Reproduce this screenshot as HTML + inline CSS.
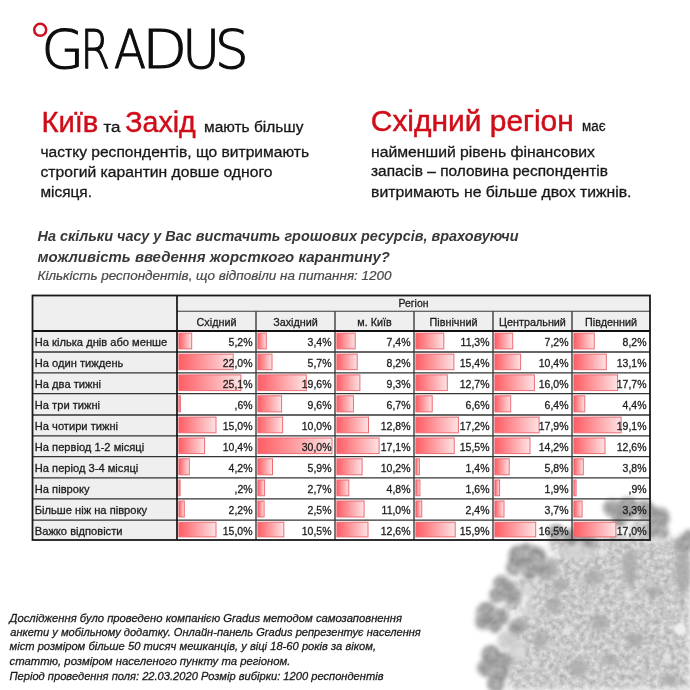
<!DOCTYPE html>
<html lang="uk"><head><meta charset="utf-8"><title>Gradus</title>
<style>
html,body{margin:0;padding:0;background:#fff}
body{width:690px;height:690px;overflow:hidden;position:relative}
svg{position:absolute;left:0;top:0;display:block;filter:blur(0.35px)}
text{font-family:'Liberation Sans', Arial, sans-serif}
</style></head>
<body>
<svg width="690" height="690" viewBox="0 0 690 690">
<defs>
<linearGradient id="bar" x1="0" x2="1" y1="0" y2="0">
<stop offset="0" stop-color="#ff5c63"/><stop offset="1" stop-color="#fde3e4"/>
</linearGradient>
<filter id="blur2" x="-20%" y="-20%" width="140%" height="140%"><feGaussianBlur stdDeviation="2.2"/></filter>
<filter id="blur1" x="-20%" y="-20%" width="140%" height="140%"><feGaussianBlur stdDeviation="1"/></filter>
</defs>
<rect width="690" height="690" fill="#ffffff"/>
<g id="virus">
<filter id="vbody" x="450" y="480" width="260" height="230" filterUnits="userSpaceOnUse" color-interpolation-filters="sRGB">
<feGaussianBlur in="SourceAlpha" stdDeviation="3" result="a"/>
<feTurbulence type="fractalNoise" baseFrequency="0.2" numOctaves="3" seed="5" result="n"/>
<feColorMatrix in="n" type="matrix" values="0.3 0 0 0 0.64  0.3 0 0 0 0.64  0.3 0 0 0 0.64  0 0 0 0 1" result="g"/>
<feComposite in="g" in2="a" operator="in"/>
</filter>
<filter id="vspike" x="450" y="480" width="260" height="230" filterUnits="userSpaceOnUse" color-interpolation-filters="sRGB">
<feGaussianBlur in="SourceAlpha" stdDeviation="2.2" result="a"/>
<feTurbulence type="fractalNoise" baseFrequency="0.12" numOctaves="2" seed="11" result="n"/>
<feColorMatrix in="n" type="matrix" values="0.2 0 0 0 0.54  0.2 0 0 0 0.54  0.2 0 0 0 0.54  0 0 0 0 1" result="g"/>
<feComposite in="g" in2="a" operator="in"/>
</filter>
<filter id="vb2" x="-50%" y="-50%" width="200%" height="200%"><feGaussianBlur stdDeviation="2"/></filter>
<filter id="vb1" x="-50%" y="-50%" width="200%" height="200%"><feGaussianBlur stdDeviation="1.2"/></filter>
<!-- body -->
<g filter="url(#vbody)" fill="#000">
<path d="M690 530 L675 538 L660 540 L640 536 L612 534 L590 540 L565 550 L548 563 L537 580 L528 598 L520 620 L514 642 L510 665 L508 690 L690 690 Z"/>
<ellipse cx="524" cy="585" rx="10" ry="8"/>
<ellipse cx="512" cy="607" rx="9" ry="7"/>
<ellipse cx="508" cy="640" rx="8" ry="10"/>
<ellipse cx="640" cy="528" rx="10" ry="8"/>
<ellipse cx="560" cy="545" rx="12" ry="8"/>
</g>
<!-- darker patches in body -->
<g fill="#a6a6a6" filter="url(#vb2)" opacity="0.75">
<ellipse cx="593" cy="577" rx="9" ry="7"/>
<ellipse cx="628" cy="562" rx="5" ry="10"/>
<ellipse cx="654" cy="592" rx="8" ry="6"/>
<ellipse cx="600" cy="623" rx="9" ry="7"/>
<ellipse cx="635" cy="640" rx="9" ry="7"/>
<ellipse cx="578" cy="668" rx="9" ry="8"/>
<ellipse cx="554" cy="605" rx="7" ry="8"/>
<ellipse cx="560" cy="585" rx="8" ry="6"/>
<ellipse cx="540" cy="640" rx="6" ry="9"/>
<ellipse cx="610" cy="660" rx="7" ry="5"/>
<ellipse cx="670" cy="680" rx="8" ry="6"/>
<ellipse cx="680" cy="575" rx="6" ry="8"/>
<ellipse cx="545" cy="575" rx="6" ry="5"/>
<ellipse cx="630" cy="568" rx="7" ry="18"/>
<ellipse cx="683" cy="572" rx="8" ry="22"/>
<ellipse cx="551" cy="568" rx="6" ry="11"/>
<ellipse cx="520" cy="625" rx="6" ry="8"/>
</g>
<g fill="#d6d6d6" filter="url(#vb2)" opacity="0.7">
<ellipse cx="578" cy="552" rx="18" ry="8"/>
<ellipse cx="527" cy="590" rx="7" ry="7"/>
<ellipse cx="518" cy="650" rx="8" ry="12"/>
<ellipse cx="530" cy="612" rx="6" ry="6"/>
<ellipse cx="506" cy="641" rx="9" ry="8" fill="#cfcfcf"/>
</g>
<g fill="#e2e2e2" filter="url(#vb1)">
<circle cx="602" cy="552" r="4"/>
<circle cx="628" cy="595" r="3.5"/>
<circle cx="680" cy="629" r="6" fill="#f0f0f0"/>
<circle cx="667" cy="657" r="4"/>
<circle cx="567" cy="631" r="4"/>
<circle cx="535" cy="663" r="3"/>
<circle cx="575" cy="545" r="3"/>
<circle cx="520" cy="652" r="5" fill="#dadada"/>
</g>
<!-- spikes -->
<g filter="url(#vspike)" fill="#000">
<circle cx="519" cy="556" r="11"/><circle cx="535" cy="558" r="12"/><circle cx="514" cy="568" r="8"/><circle cx="543" cy="569" r="8"/><circle cx="530" cy="572" r="8"/><circle cx="527" cy="551" r="8"/>
<circle cx="502" cy="584" r="9"/><circle cx="497" cy="595" r="8"/><circle cx="513" cy="597" r="9"/><circle cx="508" cy="589" r="9"/>
<circle cx="487" cy="613" r="11"/><circle cx="500" cy="617" r="9"/><circle cx="483" cy="622" r="8"/><circle cx="495" cy="626" r="7"/>
<circle cx="491" cy="655" r="10"/><circle cx="486" cy="668" r="9"/><circle cx="500" cy="671" r="10"/><circle cx="496" cy="684" r="9"/><circle cx="505" cy="660" r="8"/>
<circle cx="612" cy="508" r="9"/><circle cx="628" cy="508" r="11"/><circle cx="645" cy="510" r="10"/><circle cx="659" cy="518" r="11"/><circle cx="620" cy="519" r="8"/><circle cx="652" cy="530" r="8"/><circle cx="662" cy="532" r="7"/>
<circle cx="684" cy="545" r="9"/><circle cx="690" cy="537" r="7"/>
<circle cx="516" cy="627" r="8"/>
<circle cx="556" cy="532" r="8"/><circle cx="572" cy="537" r="9"/><circle cx="588" cy="540" r="8"/>
</g>
</g>

<!-- logo -->
<circle cx="40.2" cy="29.8" r="6.0" fill="none" stroke="#cc1020" stroke-width="2.5"/>
<rect x="32.5" y="295.5" width="617.5" height="35.5" fill="#efefef"/>
<rect x="32.5" y="295.5" width="144.5" height="244.5" fill="#efefef"/>
<rect x="178.9" y="333.1" width="12.8" height="15.8" fill="url(#bar)" stroke="#ec6d76" stroke-width="1"/>
<rect x="257.9" y="333.1" width="8.4" height="15.8" fill="url(#bar)" stroke="#ec6d76" stroke-width="1"/>
<rect x="336.9" y="333.1" width="18.3" height="15.8" fill="url(#bar)" stroke="#ec6d76" stroke-width="1"/>
<rect x="415.9" y="333.1" width="27.9" height="15.8" fill="url(#bar)" stroke="#ec6d76" stroke-width="1"/>
<rect x="494.9" y="333.1" width="17.8" height="15.8" fill="url(#bar)" stroke="#ec6d76" stroke-width="1"/>
<rect x="573.9" y="333.1" width="20.3" height="15.8" fill="url(#bar)" stroke="#ec6d76" stroke-width="1"/>
<rect x="178.9" y="354.1" width="54.3" height="15.6" fill="url(#bar)" stroke="#ec6d76" stroke-width="1"/>
<rect x="257.9" y="354.1" width="14.1" height="15.6" fill="url(#bar)" stroke="#ec6d76" stroke-width="1"/>
<rect x="336.9" y="354.1" width="20.3" height="15.6" fill="url(#bar)" stroke="#ec6d76" stroke-width="1"/>
<rect x="415.9" y="354.1" width="38.0" height="15.6" fill="url(#bar)" stroke="#ec6d76" stroke-width="1"/>
<rect x="494.9" y="354.1" width="25.7" height="15.6" fill="url(#bar)" stroke="#ec6d76" stroke-width="1"/>
<rect x="573.9" y="354.1" width="32.4" height="15.6" fill="url(#bar)" stroke="#ec6d76" stroke-width="1"/>
<rect x="178.9" y="374.9" width="62.0" height="15.7" fill="url(#bar)" stroke="#ec6d76" stroke-width="1"/>
<rect x="257.9" y="374.9" width="48.4" height="15.7" fill="url(#bar)" stroke="#ec6d76" stroke-width="1"/>
<rect x="336.9" y="374.9" width="23.0" height="15.7" fill="url(#bar)" stroke="#ec6d76" stroke-width="1"/>
<rect x="415.9" y="374.9" width="31.4" height="15.7" fill="url(#bar)" stroke="#ec6d76" stroke-width="1"/>
<rect x="494.9" y="374.9" width="39.5" height="15.7" fill="url(#bar)" stroke="#ec6d76" stroke-width="1"/>
<rect x="573.9" y="374.9" width="43.7" height="15.7" fill="url(#bar)" stroke="#ec6d76" stroke-width="1"/>
<rect x="178.9" y="395.8" width="1.5" height="16.1" fill="url(#bar)" stroke="#ec6d76" stroke-width="1"/>
<rect x="257.9" y="395.8" width="23.7" height="16.1" fill="url(#bar)" stroke="#ec6d76" stroke-width="1"/>
<rect x="336.9" y="395.8" width="16.5" height="16.1" fill="url(#bar)" stroke="#ec6d76" stroke-width="1"/>
<rect x="415.9" y="395.8" width="16.3" height="16.1" fill="url(#bar)" stroke="#ec6d76" stroke-width="1"/>
<rect x="494.9" y="395.8" width="15.8" height="16.1" fill="url(#bar)" stroke="#ec6d76" stroke-width="1"/>
<rect x="573.9" y="395.8" width="10.9" height="16.1" fill="url(#bar)" stroke="#ec6d76" stroke-width="1"/>
<rect x="178.9" y="417.1" width="37.1" height="15.7" fill="url(#bar)" stroke="#ec6d76" stroke-width="1"/>
<rect x="257.9" y="417.1" width="24.7" height="15.7" fill="url(#bar)" stroke="#ec6d76" stroke-width="1"/>
<rect x="336.9" y="417.1" width="31.6" height="15.7" fill="url(#bar)" stroke="#ec6d76" stroke-width="1"/>
<rect x="415.9" y="417.1" width="42.5" height="15.7" fill="url(#bar)" stroke="#ec6d76" stroke-width="1"/>
<rect x="494.9" y="417.1" width="44.2" height="15.7" fill="url(#bar)" stroke="#ec6d76" stroke-width="1"/>
<rect x="573.9" y="417.1" width="47.2" height="15.7" fill="url(#bar)" stroke="#ec6d76" stroke-width="1"/>
<rect x="178.9" y="438.0" width="25.7" height="15.6" fill="url(#bar)" stroke="#ec6d76" stroke-width="1"/>
<rect x="257.9" y="438.0" width="74.1" height="15.6" fill="url(#bar)" stroke="#ec6d76" stroke-width="1"/>
<rect x="336.9" y="438.0" width="42.2" height="15.6" fill="url(#bar)" stroke="#ec6d76" stroke-width="1"/>
<rect x="415.9" y="438.0" width="38.3" height="15.6" fill="url(#bar)" stroke="#ec6d76" stroke-width="1"/>
<rect x="494.9" y="438.0" width="35.1" height="15.6" fill="url(#bar)" stroke="#ec6d76" stroke-width="1"/>
<rect x="573.9" y="438.0" width="31.1" height="15.6" fill="url(#bar)" stroke="#ec6d76" stroke-width="1"/>
<rect x="178.9" y="458.8" width="10.4" height="16.0" fill="url(#bar)" stroke="#ec6d76" stroke-width="1"/>
<rect x="257.9" y="458.8" width="14.6" height="16.0" fill="url(#bar)" stroke="#ec6d76" stroke-width="1"/>
<rect x="336.9" y="458.8" width="25.2" height="16.0" fill="url(#bar)" stroke="#ec6d76" stroke-width="1"/>
<rect x="415.9" y="458.8" width="3.5" height="16.0" fill="url(#bar)" stroke="#ec6d76" stroke-width="1"/>
<rect x="494.9" y="458.8" width="14.3" height="16.0" fill="url(#bar)" stroke="#ec6d76" stroke-width="1"/>
<rect x="573.9" y="458.8" width="9.4" height="16.0" fill="url(#bar)" stroke="#ec6d76" stroke-width="1"/>
<rect x="178.9" y="480.0" width="1.2" height="15.8" fill="url(#bar)" stroke="#ec6d76" stroke-width="1"/>
<rect x="257.9" y="480.0" width="6.7" height="15.8" fill="url(#bar)" stroke="#ec6d76" stroke-width="1"/>
<rect x="336.9" y="480.0" width="11.9" height="15.8" fill="url(#bar)" stroke="#ec6d76" stroke-width="1"/>
<rect x="415.9" y="480.0" width="4.0" height="15.8" fill="url(#bar)" stroke="#ec6d76" stroke-width="1"/>
<rect x="494.9" y="480.0" width="4.7" height="15.8" fill="url(#bar)" stroke="#ec6d76" stroke-width="1"/>
<rect x="573.9" y="480.0" width="2.2" height="15.8" fill="url(#bar)" stroke="#ec6d76" stroke-width="1"/>
<rect x="178.9" y="501.0" width="5.4" height="16.0" fill="url(#bar)" stroke="#ec6d76" stroke-width="1"/>
<rect x="257.9" y="501.0" width="6.2" height="16.0" fill="url(#bar)" stroke="#ec6d76" stroke-width="1"/>
<rect x="336.9" y="501.0" width="27.2" height="16.0" fill="url(#bar)" stroke="#ec6d76" stroke-width="1"/>
<rect x="415.9" y="501.0" width="5.9" height="16.0" fill="url(#bar)" stroke="#ec6d76" stroke-width="1"/>
<rect x="494.9" y="501.0" width="9.1" height="16.0" fill="url(#bar)" stroke="#ec6d76" stroke-width="1"/>
<rect x="573.9" y="501.0" width="8.2" height="16.0" fill="url(#bar)" stroke="#ec6d76" stroke-width="1"/>
<rect x="178.9" y="522.2" width="37.1" height="14.7" fill="url(#bar)" stroke="#ec6d76" stroke-width="1"/>
<rect x="257.9" y="522.2" width="25.9" height="14.7" fill="url(#bar)" stroke="#ec6d76" stroke-width="1"/>
<rect x="336.9" y="522.2" width="31.1" height="14.7" fill="url(#bar)" stroke="#ec6d76" stroke-width="1"/>
<rect x="415.9" y="522.2" width="39.3" height="14.7" fill="url(#bar)" stroke="#ec6d76" stroke-width="1"/>
<rect x="494.9" y="522.2" width="40.8" height="14.7" fill="url(#bar)" stroke="#ec6d76" stroke-width="1"/>
<rect x="573.9" y="522.2" width="42.0" height="14.7" fill="url(#bar)" stroke="#ec6d76" stroke-width="1"/>
<line x1="32.5" x2="650.0" y1="352.0" y2="352.0" stroke="#333" stroke-width="1.3"/>
<line x1="32.5" x2="650.0" y1="372.8" y2="372.8" stroke="#333" stroke-width="1.3"/>
<line x1="32.5" x2="650.0" y1="393.7" y2="393.7" stroke="#333" stroke-width="1.3"/>
<line x1="32.5" x2="650.0" y1="415.0" y2="415.0" stroke="#333" stroke-width="1.3"/>
<line x1="32.5" x2="650.0" y1="435.9" y2="435.9" stroke="#333" stroke-width="1.3"/>
<line x1="32.5" x2="650.0" y1="456.7" y2="456.7" stroke="#333" stroke-width="1.3"/>
<line x1="32.5" x2="650.0" y1="477.9" y2="477.9" stroke="#333" stroke-width="1.3"/>
<line x1="32.5" x2="650.0" y1="498.9" y2="498.9" stroke="#333" stroke-width="1.3"/>
<line x1="32.5" x2="650.0" y1="520.1" y2="520.1" stroke="#333" stroke-width="1.3"/>
<line x1="177.0" x2="650.0" y1="311.2" y2="311.2" stroke="#3a3a3a" stroke-width="1.1"/>
<line x1="256.0" x2="256.0" y1="311.2" y2="540.0" stroke="#3c3c3c" stroke-width="1.4"/>
<line x1="335.0" x2="335.0" y1="311.2" y2="540.0" stroke="#3c3c3c" stroke-width="1.4"/>
<line x1="414.0" x2="414.0" y1="311.2" y2="540.0" stroke="#3c3c3c" stroke-width="1.4"/>
<line x1="493.0" x2="493.0" y1="311.2" y2="540.0" stroke="#3c3c3c" stroke-width="1.4"/>
<line x1="572.0" x2="572.0" y1="311.2" y2="540.0" stroke="#3c3c3c" stroke-width="1.4"/>
<line x1="32.5" x2="650.0" y1="331.0" y2="331.0" stroke="#111" stroke-width="2"/>
<line x1="177.0" x2="177.0" y1="295.5" y2="540.0" stroke="#111" stroke-width="1.7"/>
<rect x="32.5" y="295.5" width="617.5" height="244.5" fill="none" stroke="#1a1a1a" stroke-width="1.8"/>
<text x="41.4" y="67.8" font-size="53.00" font-weight="200" fill="#0d0d0d" stroke="#0d0d0d" stroke-width="1.2" style="font-family:'DejaVu Sans Light','DejaVu Sans',sans-serif" textLength="42.6" lengthAdjust="spacingAndGlyphs">G</text>
<text x="80.6" y="67.8" font-size="53.00" font-weight="200" fill="#0d0d0d" stroke="#0d0d0d" stroke-width="1.2" style="font-family:'DejaVu Sans Light','DejaVu Sans',sans-serif" textLength="29.4" lengthAdjust="spacingAndGlyphs">R</text>
<text x="114.0" y="67.8" font-size="53.00" font-weight="200" fill="#0d0d0d" stroke="#0d0d0d" stroke-width="1.2" style="font-family:'DejaVu Sans Light','DejaVu Sans',sans-serif" textLength="32.0" lengthAdjust="spacingAndGlyphs">A</text>
<text x="142.2" y="67.8" font-size="53.00" font-weight="200" fill="#0d0d0d" stroke="#0d0d0d" stroke-width="1.2" style="font-family:'DejaVu Sans Light','DejaVu Sans',sans-serif" textLength="44.8" lengthAdjust="spacingAndGlyphs">D</text>
<text x="182.2" y="67.8" font-size="53.00" font-weight="200" fill="#0d0d0d" stroke="#0d0d0d" stroke-width="1.2" style="font-family:'DejaVu Sans Light','DejaVu Sans',sans-serif" textLength="37.8" lengthAdjust="spacingAndGlyphs">U</text>
<text x="215.0" y="67.8" font-size="53.00" font-weight="200" fill="#0d0d0d" stroke="#0d0d0d" stroke-width="1.2" style="font-family:'DejaVu Sans Light','DejaVu Sans',sans-serif" textLength="33.6" lengthAdjust="spacingAndGlyphs">S</text>
<text x="41.4" y="131.5" font-size="30.00" fill="#cf0d19" stroke="#cf0d19" stroke-width="0.45" textLength="57.0" lengthAdjust="spacingAndGlyphs">Київ</text>
<text x="103.5" y="131.5" font-size="14.00" fill="#171717" stroke="#171717" stroke-width="0.3" textLength="17.0" lengthAdjust="spacingAndGlyphs">та</text>
<text x="125.3" y="131.5" font-size="30.00" fill="#cf0d19" stroke="#cf0d19" stroke-width="0.45" textLength="70.5" lengthAdjust="spacingAndGlyphs">Захід</text>
<text x="204.0" y="132.0" font-size="15.50" fill="#171717" stroke="#171717" stroke-width="0.3" textLength="99.5" lengthAdjust="spacingAndGlyphs">мають більшу</text>
<text x="40.5" y="157.4" font-size="15.50" fill="#171717" stroke="#171717" stroke-width="0.3" textLength="268.5" lengthAdjust="spacingAndGlyphs">частку респондентів, що витримають</text>
<text x="40.5" y="176.5" font-size="15.50" fill="#171717" stroke="#171717" stroke-width="0.3" textLength="232.0" lengthAdjust="spacingAndGlyphs">строгий карантин довше одного</text>
<text x="40.5" y="197.4" font-size="15.50" fill="#171717" stroke="#171717" stroke-width="0.3" textLength="51.5" lengthAdjust="spacingAndGlyphs">місяця.</text>
<text x="370.8" y="131.3" font-size="30.00" fill="#cf0d19" stroke="#cf0d19" stroke-width="0.45" textLength="203.0" lengthAdjust="spacingAndGlyphs">Східний регіон</text>
<text x="582.0" y="131.0" font-size="15.50" fill="#171717" stroke="#171717" stroke-width="0.3" textLength="23.5" lengthAdjust="spacingAndGlyphs">має</text>
<text x="371.0" y="156.8" font-size="15.50" fill="#171717" stroke="#171717" stroke-width="0.3" textLength="224.0" lengthAdjust="spacingAndGlyphs">найменший рівень фінансових</text>
<text x="371.0" y="176.0" font-size="15.50" fill="#171717" stroke="#171717" stroke-width="0.3" textLength="237.0" lengthAdjust="spacingAndGlyphs">запасів – половина респондентів</text>
<text x="371.0" y="196.5" font-size="15.50" fill="#171717" stroke="#171717" stroke-width="0.3" textLength="260.5" lengthAdjust="spacingAndGlyphs">витримають не більше двох тижнів.</text>
<text x="37.5" y="240.8" font-size="14.50" font-weight="700" font-style="italic" fill="#383838" textLength="481.0" lengthAdjust="spacingAndGlyphs">На скільки часу у Вас вистачить грошових ресурсів, враховуючи</text>
<text x="37.5" y="261.7" font-size="14.50" font-weight="700" font-style="italic" fill="#383838" textLength="352.5" lengthAdjust="spacingAndGlyphs">можливість введення жорсткого карантину?</text>
<text x="37.5" y="280.3" font-size="12.00" font-style="italic" fill="#4a4a4a" stroke="#4a4a4a" stroke-width="0.2" textLength="354.0" lengthAdjust="spacingAndGlyphs">Кількість респондентів, що відповіли на питання: 1200</text>
<text x="9.5" y="621.7" font-size="11.50" font-style="italic" fill="#1a1a1a" stroke="#1a1a1a" stroke-width="0.28" textLength="392.5" lengthAdjust="spacingAndGlyphs">Дослідження було проведено компанією Gradus методом самозаповнення</text>
<text x="10.3" y="636.0" font-size="11.50" font-style="italic" fill="#1a1a1a" stroke="#1a1a1a" stroke-width="0.28" textLength="410.5" lengthAdjust="spacingAndGlyphs">анкети у мобільному додатку. Онлайн-панель Gradus репрезентує населення</text>
<text x="9.5" y="650.3" font-size="11.50" font-style="italic" fill="#1a1a1a" stroke="#1a1a1a" stroke-width="0.28" textLength="366.5" lengthAdjust="spacingAndGlyphs">міст розміром більше 50 тисяч мешканців, у віці 18-60 років за віком,</text>
<text x="9.5" y="664.6" font-size="11.50" font-style="italic" fill="#1a1a1a" stroke="#1a1a1a" stroke-width="0.28" textLength="281.0" lengthAdjust="spacingAndGlyphs">статтю, розміром населеного пункту та регіоном.</text>
<text x="9.5" y="679.8" font-size="11.50" font-style="italic" fill="#1a1a1a" stroke="#1a1a1a" stroke-width="0.28" textLength="374.0" lengthAdjust="spacingAndGlyphs">Період проведення поля: 22.03.2020 Розмір вибірки: 1200 респондентів</text>
<text x="34.8" y="346.0" font-size="11.30" fill="#1c1c1c" stroke="#1c1c1c" stroke-width="0.3" textLength="132.4" lengthAdjust="spacingAndGlyphs">На кілька днів або менше</text>
<text x="34.8" y="367.0" font-size="11.30" fill="#1c1c1c" stroke="#1c1c1c" stroke-width="0.3" textLength="88.6" lengthAdjust="spacingAndGlyphs">На один тиждень</text>
<text x="34.8" y="387.8" font-size="11.30" fill="#1c1c1c" stroke="#1c1c1c" stroke-width="0.3" textLength="66.3" lengthAdjust="spacingAndGlyphs">На два тижні</text>
<text x="34.8" y="408.7" font-size="11.30" fill="#1c1c1c" stroke="#1c1c1c" stroke-width="0.3" textLength="65.3" lengthAdjust="spacingAndGlyphs">На три тижні</text>
<text x="34.8" y="430.0" font-size="11.30" fill="#1c1c1c" stroke="#1c1c1c" stroke-width="0.3" textLength="83.2" lengthAdjust="spacingAndGlyphs">На чотири тижні</text>
<text x="34.8" y="450.9" font-size="11.30" fill="#1c1c1c" stroke="#1c1c1c" stroke-width="0.3" textLength="109.4" lengthAdjust="spacingAndGlyphs">На первіод 1-2 місяці</text>
<text x="34.8" y="471.7" font-size="11.30" fill="#1c1c1c" stroke="#1c1c1c" stroke-width="0.3" textLength="103.5" lengthAdjust="spacingAndGlyphs">На період 3-4 місяці</text>
<text x="34.8" y="492.9" font-size="11.30" fill="#1c1c1c" stroke="#1c1c1c" stroke-width="0.3" textLength="54.7" lengthAdjust="spacingAndGlyphs">На півроку</text>
<text x="34.8" y="513.9" font-size="11.30" fill="#1c1c1c" stroke="#1c1c1c" stroke-width="0.3" textLength="112.2" lengthAdjust="spacingAndGlyphs">Більше ніж на півроку</text>
<text x="34.8" y="535.1" font-size="11.30" fill="#1c1c1c" stroke="#1c1c1c" stroke-width="0.3" textLength="87.7" lengthAdjust="spacingAndGlyphs">Важко відповісти</text>
<text x="252.5" y="345.9" font-size="11.25" fill="#1c1c1c" stroke="#1c1c1c" stroke-width="0.3" text-anchor="end" textLength="23.9" lengthAdjust="spacingAndGlyphs">5,2%</text>
<text x="331.5" y="345.9" font-size="11.25" fill="#1c1c1c" stroke="#1c1c1c" stroke-width="0.3" text-anchor="end" textLength="23.9" lengthAdjust="spacingAndGlyphs">3,4%</text>
<text x="410.5" y="345.9" font-size="11.25" fill="#1c1c1c" stroke="#1c1c1c" stroke-width="0.3" text-anchor="end" textLength="23.9" lengthAdjust="spacingAndGlyphs">7,4%</text>
<text x="489.5" y="345.9" font-size="11.25" fill="#1c1c1c" stroke="#1c1c1c" stroke-width="0.3" text-anchor="end" textLength="28.9" lengthAdjust="spacingAndGlyphs">11,3%</text>
<text x="568.5" y="345.9" font-size="11.25" fill="#1c1c1c" stroke="#1c1c1c" stroke-width="0.3" text-anchor="end" textLength="23.9" lengthAdjust="spacingAndGlyphs">7,2%</text>
<text x="646.5" y="345.9" font-size="11.25" fill="#1c1c1c" stroke="#1c1c1c" stroke-width="0.3" text-anchor="end" textLength="23.9" lengthAdjust="spacingAndGlyphs">8,2%</text>
<text x="252.5" y="366.9" font-size="11.25" fill="#1c1c1c" stroke="#1c1c1c" stroke-width="0.3" text-anchor="end" textLength="29.7" lengthAdjust="spacingAndGlyphs">22,0%</text>
<text x="331.5" y="366.9" font-size="11.25" fill="#1c1c1c" stroke="#1c1c1c" stroke-width="0.3" text-anchor="end" textLength="23.9" lengthAdjust="spacingAndGlyphs">5,7%</text>
<text x="410.5" y="366.9" font-size="11.25" fill="#1c1c1c" stroke="#1c1c1c" stroke-width="0.3" text-anchor="end" textLength="23.9" lengthAdjust="spacingAndGlyphs">8,2%</text>
<text x="489.5" y="366.9" font-size="11.25" fill="#1c1c1c" stroke="#1c1c1c" stroke-width="0.3" text-anchor="end" textLength="29.7" lengthAdjust="spacingAndGlyphs">15,4%</text>
<text x="568.5" y="366.9" font-size="11.25" fill="#1c1c1c" stroke="#1c1c1c" stroke-width="0.3" text-anchor="end" textLength="29.7" lengthAdjust="spacingAndGlyphs">10,4%</text>
<text x="646.5" y="366.9" font-size="11.25" fill="#1c1c1c" stroke="#1c1c1c" stroke-width="0.3" text-anchor="end" textLength="29.7" lengthAdjust="spacingAndGlyphs">13,1%</text>
<text x="252.5" y="387.7" font-size="11.25" fill="#1c1c1c" stroke="#1c1c1c" stroke-width="0.3" text-anchor="end" textLength="29.7" lengthAdjust="spacingAndGlyphs">25,1%</text>
<text x="331.5" y="387.7" font-size="11.25" fill="#1c1c1c" stroke="#1c1c1c" stroke-width="0.3" text-anchor="end" textLength="29.7" lengthAdjust="spacingAndGlyphs">19,6%</text>
<text x="410.5" y="387.7" font-size="11.25" fill="#1c1c1c" stroke="#1c1c1c" stroke-width="0.3" text-anchor="end" textLength="23.9" lengthAdjust="spacingAndGlyphs">9,3%</text>
<text x="489.5" y="387.7" font-size="11.25" fill="#1c1c1c" stroke="#1c1c1c" stroke-width="0.3" text-anchor="end" textLength="29.7" lengthAdjust="spacingAndGlyphs">12,7%</text>
<text x="568.5" y="387.7" font-size="11.25" fill="#1c1c1c" stroke="#1c1c1c" stroke-width="0.3" text-anchor="end" textLength="29.7" lengthAdjust="spacingAndGlyphs">16,0%</text>
<text x="646.5" y="387.7" font-size="11.25" fill="#1c1c1c" stroke="#1c1c1c" stroke-width="0.3" text-anchor="end" textLength="29.7" lengthAdjust="spacingAndGlyphs">17,7%</text>
<text x="252.5" y="408.6" font-size="11.25" fill="#1c1c1c" stroke="#1c1c1c" stroke-width="0.3" text-anchor="end" textLength="18.0" lengthAdjust="spacingAndGlyphs">,6%</text>
<text x="331.5" y="408.6" font-size="11.25" fill="#1c1c1c" stroke="#1c1c1c" stroke-width="0.3" text-anchor="end" textLength="23.9" lengthAdjust="spacingAndGlyphs">9,6%</text>
<text x="410.5" y="408.6" font-size="11.25" fill="#1c1c1c" stroke="#1c1c1c" stroke-width="0.3" text-anchor="end" textLength="23.9" lengthAdjust="spacingAndGlyphs">6,7%</text>
<text x="489.5" y="408.6" font-size="11.25" fill="#1c1c1c" stroke="#1c1c1c" stroke-width="0.3" text-anchor="end" textLength="23.9" lengthAdjust="spacingAndGlyphs">6,6%</text>
<text x="568.5" y="408.6" font-size="11.25" fill="#1c1c1c" stroke="#1c1c1c" stroke-width="0.3" text-anchor="end" textLength="23.9" lengthAdjust="spacingAndGlyphs">6,4%</text>
<text x="646.5" y="408.6" font-size="11.25" fill="#1c1c1c" stroke="#1c1c1c" stroke-width="0.3" text-anchor="end" textLength="23.9" lengthAdjust="spacingAndGlyphs">4,4%</text>
<text x="252.5" y="429.9" font-size="11.25" fill="#1c1c1c" stroke="#1c1c1c" stroke-width="0.3" text-anchor="end" textLength="29.7" lengthAdjust="spacingAndGlyphs">15,0%</text>
<text x="331.5" y="429.9" font-size="11.25" fill="#1c1c1c" stroke="#1c1c1c" stroke-width="0.3" text-anchor="end" textLength="29.7" lengthAdjust="spacingAndGlyphs">10,0%</text>
<text x="410.5" y="429.9" font-size="11.25" fill="#1c1c1c" stroke="#1c1c1c" stroke-width="0.3" text-anchor="end" textLength="29.7" lengthAdjust="spacingAndGlyphs">12,8%</text>
<text x="489.5" y="429.9" font-size="11.25" fill="#1c1c1c" stroke="#1c1c1c" stroke-width="0.3" text-anchor="end" textLength="29.7" lengthAdjust="spacingAndGlyphs">17,2%</text>
<text x="568.5" y="429.9" font-size="11.25" fill="#1c1c1c" stroke="#1c1c1c" stroke-width="0.3" text-anchor="end" textLength="29.7" lengthAdjust="spacingAndGlyphs">17,9%</text>
<text x="646.5" y="429.9" font-size="11.25" fill="#1c1c1c" stroke="#1c1c1c" stroke-width="0.3" text-anchor="end" textLength="29.7" lengthAdjust="spacingAndGlyphs">19,1%</text>
<text x="252.5" y="450.8" font-size="11.25" fill="#1c1c1c" stroke="#1c1c1c" stroke-width="0.3" text-anchor="end" textLength="29.7" lengthAdjust="spacingAndGlyphs">10,4%</text>
<text x="331.5" y="450.8" font-size="11.25" fill="#1c1c1c" stroke="#1c1c1c" stroke-width="0.3" text-anchor="end" textLength="29.7" lengthAdjust="spacingAndGlyphs">30,0%</text>
<text x="410.5" y="450.8" font-size="11.25" fill="#1c1c1c" stroke="#1c1c1c" stroke-width="0.3" text-anchor="end" textLength="29.7" lengthAdjust="spacingAndGlyphs">17,1%</text>
<text x="489.5" y="450.8" font-size="11.25" fill="#1c1c1c" stroke="#1c1c1c" stroke-width="0.3" text-anchor="end" textLength="29.7" lengthAdjust="spacingAndGlyphs">15,5%</text>
<text x="568.5" y="450.8" font-size="11.25" fill="#1c1c1c" stroke="#1c1c1c" stroke-width="0.3" text-anchor="end" textLength="29.7" lengthAdjust="spacingAndGlyphs">14,2%</text>
<text x="646.5" y="450.8" font-size="11.25" fill="#1c1c1c" stroke="#1c1c1c" stroke-width="0.3" text-anchor="end" textLength="29.7" lengthAdjust="spacingAndGlyphs">12,6%</text>
<text x="252.5" y="471.6" font-size="11.25" fill="#1c1c1c" stroke="#1c1c1c" stroke-width="0.3" text-anchor="end" textLength="23.9" lengthAdjust="spacingAndGlyphs">4,2%</text>
<text x="331.5" y="471.6" font-size="11.25" fill="#1c1c1c" stroke="#1c1c1c" stroke-width="0.3" text-anchor="end" textLength="23.9" lengthAdjust="spacingAndGlyphs">5,9%</text>
<text x="410.5" y="471.6" font-size="11.25" fill="#1c1c1c" stroke="#1c1c1c" stroke-width="0.3" text-anchor="end" textLength="29.7" lengthAdjust="spacingAndGlyphs">10,2%</text>
<text x="489.5" y="471.6" font-size="11.25" fill="#1c1c1c" stroke="#1c1c1c" stroke-width="0.3" text-anchor="end" textLength="23.9" lengthAdjust="spacingAndGlyphs">1,4%</text>
<text x="568.5" y="471.6" font-size="11.25" fill="#1c1c1c" stroke="#1c1c1c" stroke-width="0.3" text-anchor="end" textLength="23.9" lengthAdjust="spacingAndGlyphs">5,8%</text>
<text x="646.5" y="471.6" font-size="11.25" fill="#1c1c1c" stroke="#1c1c1c" stroke-width="0.3" text-anchor="end" textLength="23.9" lengthAdjust="spacingAndGlyphs">3,8%</text>
<text x="252.5" y="492.8" font-size="11.25" fill="#1c1c1c" stroke="#1c1c1c" stroke-width="0.3" text-anchor="end" textLength="18.0" lengthAdjust="spacingAndGlyphs">,2%</text>
<text x="331.5" y="492.8" font-size="11.25" fill="#1c1c1c" stroke="#1c1c1c" stroke-width="0.3" text-anchor="end" textLength="23.9" lengthAdjust="spacingAndGlyphs">2,7%</text>
<text x="410.5" y="492.8" font-size="11.25" fill="#1c1c1c" stroke="#1c1c1c" stroke-width="0.3" text-anchor="end" textLength="23.9" lengthAdjust="spacingAndGlyphs">4,8%</text>
<text x="489.5" y="492.8" font-size="11.25" fill="#1c1c1c" stroke="#1c1c1c" stroke-width="0.3" text-anchor="end" textLength="23.9" lengthAdjust="spacingAndGlyphs">1,6%</text>
<text x="568.5" y="492.8" font-size="11.25" fill="#1c1c1c" stroke="#1c1c1c" stroke-width="0.3" text-anchor="end" textLength="23.9" lengthAdjust="spacingAndGlyphs">1,9%</text>
<text x="646.5" y="492.8" font-size="11.25" fill="#1c1c1c" stroke="#1c1c1c" stroke-width="0.3" text-anchor="end" textLength="18.0" lengthAdjust="spacingAndGlyphs">,9%</text>
<text x="252.5" y="513.8" font-size="11.25" fill="#1c1c1c" stroke="#1c1c1c" stroke-width="0.3" text-anchor="end" textLength="23.9" lengthAdjust="spacingAndGlyphs">2,2%</text>
<text x="331.5" y="513.8" font-size="11.25" fill="#1c1c1c" stroke="#1c1c1c" stroke-width="0.3" text-anchor="end" textLength="23.9" lengthAdjust="spacingAndGlyphs">2,5%</text>
<text x="410.5" y="513.8" font-size="11.25" fill="#1c1c1c" stroke="#1c1c1c" stroke-width="0.3" text-anchor="end" textLength="28.9" lengthAdjust="spacingAndGlyphs">11,0%</text>
<text x="489.5" y="513.8" font-size="11.25" fill="#1c1c1c" stroke="#1c1c1c" stroke-width="0.3" text-anchor="end" textLength="23.9" lengthAdjust="spacingAndGlyphs">2,4%</text>
<text x="568.5" y="513.8" font-size="11.25" fill="#1c1c1c" stroke="#1c1c1c" stroke-width="0.3" text-anchor="end" textLength="23.9" lengthAdjust="spacingAndGlyphs">3,7%</text>
<text x="646.5" y="513.8" font-size="11.25" fill="#1c1c1c" stroke="#1c1c1c" stroke-width="0.3" text-anchor="end" textLength="23.9" lengthAdjust="spacingAndGlyphs">3,3%</text>
<text x="252.5" y="535.0" font-size="11.25" fill="#1c1c1c" stroke="#1c1c1c" stroke-width="0.3" text-anchor="end" textLength="29.7" lengthAdjust="spacingAndGlyphs">15,0%</text>
<text x="331.5" y="535.0" font-size="11.25" fill="#1c1c1c" stroke="#1c1c1c" stroke-width="0.3" text-anchor="end" textLength="29.7" lengthAdjust="spacingAndGlyphs">10,5%</text>
<text x="410.5" y="535.0" font-size="11.25" fill="#1c1c1c" stroke="#1c1c1c" stroke-width="0.3" text-anchor="end" textLength="29.7" lengthAdjust="spacingAndGlyphs">12,6%</text>
<text x="489.5" y="535.0" font-size="11.25" fill="#1c1c1c" stroke="#1c1c1c" stroke-width="0.3" text-anchor="end" textLength="29.7" lengthAdjust="spacingAndGlyphs">15,9%</text>
<text x="568.5" y="535.0" font-size="11.25" fill="#1c1c1c" stroke="#1c1c1c" stroke-width="0.3" text-anchor="end" textLength="29.7" lengthAdjust="spacingAndGlyphs">16,5%</text>
<text x="646.5" y="535.0" font-size="11.25" fill="#1c1c1c" stroke="#1c1c1c" stroke-width="0.3" text-anchor="end" textLength="29.7" lengthAdjust="spacingAndGlyphs">17,0%</text>
<text x="216.5" y="325.6" font-size="11.60" fill="#1c1c1c" stroke="#1c1c1c" stroke-width="0.3" text-anchor="middle" textLength="39.9" lengthAdjust="spacingAndGlyphs">Східний</text>
<text x="295.5" y="325.6" font-size="11.60" fill="#1c1c1c" stroke="#1c1c1c" stroke-width="0.3" text-anchor="middle" textLength="44.6" lengthAdjust="spacingAndGlyphs">Західний</text>
<text x="374.5" y="325.6" font-size="11.60" fill="#1c1c1c" stroke="#1c1c1c" stroke-width="0.3" text-anchor="middle" textLength="34.4" lengthAdjust="spacingAndGlyphs">м. Київ</text>
<text x="453.5" y="325.6" font-size="11.60" fill="#1c1c1c" stroke="#1c1c1c" stroke-width="0.3" text-anchor="middle" textLength="47.9" lengthAdjust="spacingAndGlyphs">Північний</text>
<text x="532.5" y="325.6" font-size="11.60" fill="#1c1c1c" stroke="#1c1c1c" stroke-width="0.3" text-anchor="middle" textLength="66.8" lengthAdjust="spacingAndGlyphs">Центральний</text>
<text x="611.0" y="325.6" font-size="11.60" fill="#1c1c1c" stroke="#1c1c1c" stroke-width="0.3" text-anchor="middle" textLength="52.0" lengthAdjust="spacingAndGlyphs">Південний</text>
<text x="413.5" y="307.0" font-size="11.25" fill="#1c1c1c" stroke="#1c1c1c" stroke-width="0.3" text-anchor="middle" textLength="30.1" lengthAdjust="spacingAndGlyphs">Регіон</text>
</svg>
</body></html>
